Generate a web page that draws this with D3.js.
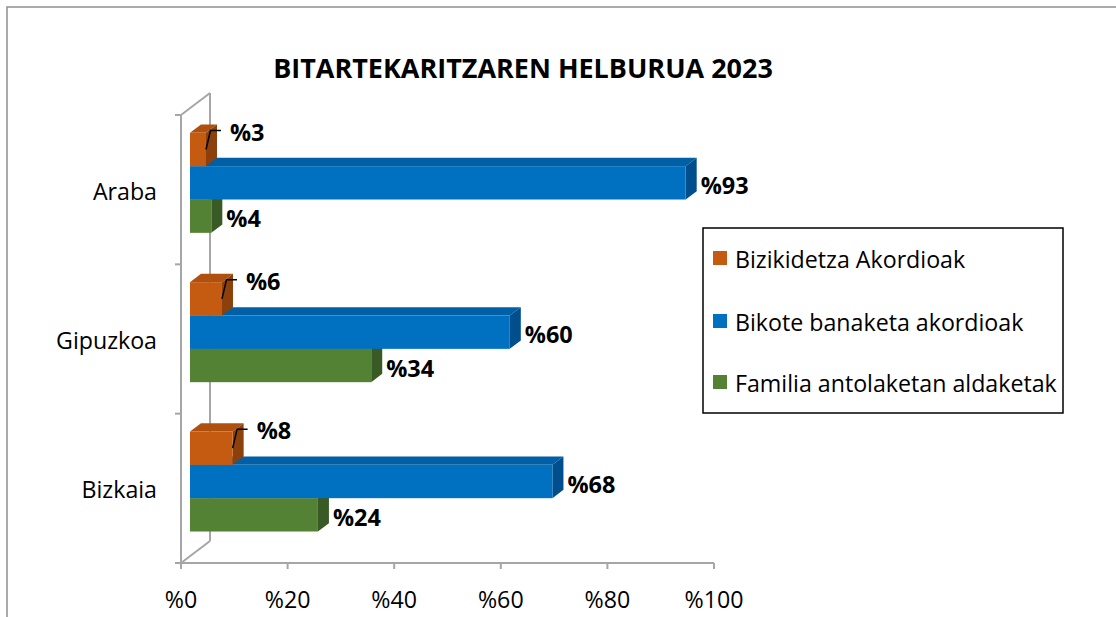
<!DOCTYPE html>
<html><head><meta charset="utf-8">
<script src="https://cdn.jsdelivr.net/npm/d3@7"></script>
<style>html,body{margin:0;padding:0;background:#fff;}svg{display:block;}</style>
</head><body>
<svg id="chart" width="1116" height="617"></svg>
<script>
const title = "BITARTEKARITZAREN HELBURUA 2023";
const categories = ["Araba", "Gipuzkoa", "Bizkaia"];
const seriesNames = ["Bizikidetza Akordioak", "Bikote banaketa akordioak", "Familia antolaketan aldaketak"];
const bizikidetza = [3, 6, 8];
const bikote = [93, 60, 68];
const familia = [4, 34, 24];
const tickValues = [0, 20, 40, 60, 80, 100];
const tickLabels = ["%0", "%20", "%40", "%60", "%80", "%100"];

const seriesValues = [bizikidetza, bikote, familia];
const colors = [
  {front: "#C55A11", top: "#B0500F", side: "#8C400C"},
  {front: "#0070C0", top: "#005FA5", side: "#004F8C"},
  {front: "#548235", top: "#4A7330", side: "#3A5A25"}
];

const svg = d3.select("#chart");
const font = "'Open Sans', Lato, sans-serif";

// fit helper: scale font-size so that a reference string gets a target width
function fitSize(text, weight, target) {
  const t = svg.append("text").attr("font-family", font).attr("font-weight", weight)
    .attr("font-size", 100).text(text);
  const w = t.node().getComputedTextLength();
  t.remove();
  return 100 * target / w;
}
const titleSize = fitSize(title, "bold", 500);
const legendSize = fitSize(seriesNames[2], "normal", 322);
const catSize = fitSize("Gipuzkoa", "normal", 101);
const tickSize = fitSize("%100", "normal", 59);
const labelSize = fitSize("%93", "bold", 48);

// outer border
svg.append("rect").attr("x", 7).attr("y", 7).attr("width", 1130).attr("height", 630)
  .attr("fill", "none").attr("stroke", "#8f8f8f").attr("stroke-width", 1.5);

// scales (front plane)
const x = d3.scaleLinear().domain([0, 100]).range([181, 714]);
const y = d3.scaleBand().domain(categories).range([115, 563]).paddingInner(0).paddingOuter(0);
const depth = {dx: 29, dy: -22};
const f0 = 0.31, f1 = 0.69;
const sub = d3.scaleBand().domain(d3.range(seriesNames.length))
  .range([0, 100]).padding(0);
const groupOffset = (y.bandwidth() - 100) / 2;

// walls
const gray = "#A6A6A6";
const wall = svg.append("g").attr("stroke", gray).attr("stroke-width", 2).attr("fill", "none");
const y0 = y.range()[0], y1 = y.range()[1];
wall.append("line").attr("x1", x(0)).attr("y1", y0).attr("x2", x(0)).attr("y2", y1);
wall.append("line").attr("x1", x(0) + depth.dx).attr("y1", y0 + depth.dy).attr("x2", x(0) + depth.dx).attr("y2", y1 + depth.dy);
wall.append("line").attr("x1", x(0)).attr("y1", y0).attr("x2", x(0) + depth.dx).attr("y2", y0 + depth.dy);
wall.append("line").attr("x1", x(0)).attr("y1", y1).attr("x2", x(0) + depth.dx).attr("y2", y1 + depth.dy);
wall.append("line").attr("x1", x(0)).attr("y1", y1).attr("x2", x(100)).attr("y2", y1);
const catTicks = categories.map(c => y(c)).concat([y1]);
wall.selectAll(".ct").data(catTicks).join("line")
  .attr("x1", x(0) - 6).attr("x2", x(0)).attr("y1", d => d).attr("y2", d => d);
wall.selectAll(".xt").data(tickValues).join("line")
  .attr("x1", d => x(d)).attr("x2", d => x(d)).attr("y1", y1).attr("y2", y1 + 6);

// x tick labels
svg.selectAll(".xl").data(tickValues).join("text")
  .attr("x", d => x(d)).attr("y", 599).attr("text-anchor", "middle")
  .attr("dominant-baseline", "central").attr("font-family", font).attr("font-size", tickSize)
  .attr("fill", "#000").text((d, i) => tickLabels[i]);

// category labels
svg.selectAll(".cl").data(categories).join("text")
  .attr("x", 157).attr("y", d => y(d) + y.bandwidth() / 2 + 1).attr("text-anchor", "end")
  .attr("dominant-baseline", "central").attr("font-family", font).attr("font-size", catSize)
  .attr("fill", "#000").text(d => d);

// bars
const bx = v => x(v) + depth.dx * f0;
const byOff = depth.dy * f0;
const ddx = depth.dx * (f1 - f0), ddy = depth.dy * (f1 - f0);
const bars = [];
categories.forEach((c, ci) => {
  for (let si = seriesNames.length - 1; si >= 0; si--) {
    bars.push({c, ci, si, v: seriesValues[si][ci]});
  }
});
const barG = svg.append("g");
bars.forEach(b => {
  const top = y(b.c) + groupOffset + sub(b.si) + byOff;
  const h = sub.bandwidth();
  const xa = bx(0), xb = bx(b.v);
  const g = barG.append("g");
  g.append("path").attr("d", `M${xa},${top}L${xa + ddx},${top + ddy}L${xb + ddx},${top + ddy}L${xb},${top}Z`)
    .attr("fill", colors[b.si].top);
  g.append("path").attr("d", `M${xb},${top}L${xb + ddx},${top + ddy}L${xb + ddx},${top + ddy + h}L${xb},${top + h}Z`)
    .attr("fill", colors[b.si].side);
  g.append("rect").attr("x", xa).attr("y", top).attr("width", xb - xa).attr("height", h)
    .attr("fill", colors[b.si].front);
  b.top = top; b.h = h; b.xb = xb;
});

// labels
const labG = svg.append("g");
bars.forEach(b => {
  const cy = b.top + b.h / 2;
  if (b.si === 0) {
    labG.append("path").attr("d", `M${b.xb},${cy}L${b.xb + 4.5},${cy - 19}L${b.xb + 15},${cy - 19}`)
      .attr("fill", "none").attr("stroke", "#000").attr("stroke-width", 1.5);
    labG.append("text").attr("x", b.xb + 24).attr("y", cy - 18)
      .attr("dominant-baseline", "central").attr("font-family", font).attr("font-weight", "bold")
      .attr("font-size", labelSize).attr("fill", "#000").text("%" + b.v);
  } else {
    labG.append("text").attr("x", b.xb + 15).attr("y", cy + 2)
      .attr("dominant-baseline", "central").attr("font-family", font).attr("font-weight", "bold")
      .attr("font-size", labelSize).attr("fill", "#000").text("%" + b.v);
  }
});

// title
svg.append("text").attr("x", 523).attr("y", 67).attr("text-anchor", "middle")
  .attr("dominant-baseline", "central").attr("font-family", font).attr("font-weight", "bold")
  .attr("font-size", titleSize).attr("fill", "#000").text(title);

// legend
const lg = svg.append("g");
lg.append("rect").attr("x", 703).attr("y", 228).attr("width", 360).attr("height", 185)
  .attr("fill", "#fff").attr("stroke", "#000").attr("stroke-width", 1.5);
const legY = [258, 321, 382];
seriesNames.forEach((n, i) => {
  lg.append("rect").attr("x", 713).attr("y", legY[i] - 7).attr("width", 14).attr("height", 14)
    .attr("fill", colors[i].front);
  lg.append("text").attr("x", 735).attr("y", legY[i] + 1).attr("dominant-baseline", "central")
    .attr("font-family", font).attr("font-size", legendSize).attr("fill", "#000").text(n);
});
</script>
</body></html>
